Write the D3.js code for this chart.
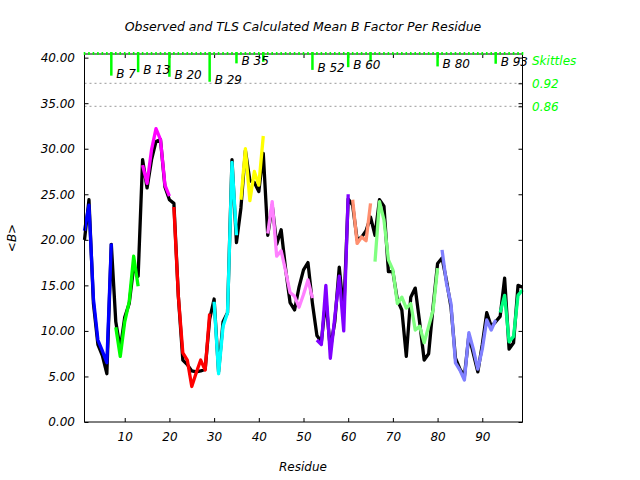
<!DOCTYPE html>
<html><head><meta charset="utf-8">
<script src="https://cdn.jsdelivr.net/npm/d3@7"></script>
<style>
body{margin:0;background:#fff}
text{font-family:"DejaVu Sans",sans-serif;font-style:italic}
</style>
</head><body>
<svg id="c" width="640" height="480"></svg>
<script>
// ---------- data ----------
const residues = d3.range(1, 100);
const observed = [
 20.0,24.4,13.0,8.5,7.3,5.3,19.5,11.0,8.0,11.5,
 13.0,17.0,16.0,28.8,25.7,28.8,30.8,31.0,25.8,24.4,
 24.0,13.8,6.8,6.3,5.6,5.5,5.6,5.8,11.3,13.5,
 5.5,11.0,12.0,28.8,19.7,23.5,29.8,26.5,26.3,25.3,
 29.5,20.5,23.8,19.5,21.1,16.8,13.1,12.3,14.8,16.7,
 17.5,13.0,9.5,8.8,13.5,8.0,11.0,17.0,12.0,24.5,
 23.8,20.0,20.3,21.0,22.5,20.5,24.4,23.7,16.5,16.5,
 13.4,12.3,7.2,13.7,14.7,10.9,6.8,7.5,12.7,17.4,
 18.0,15.5,12.6,7.0,5.8,5.0,9.5,7.5,5.5,8.5,
 12.0,10.5,11.0,11.6,15.8,8.0,8.7,15.0,14.8
];
const segStart = [1, 8, 14, 21, 30, 36, 42, 53, 61, 66, 81, 94];
const segColor = ["#0000ff","#00ff00","#ff00ff","#ff0000","#00ffff","#ffff00",
                  "#ff80ff","#8000ff","#ff9070","#80ff80","#8080ff","#00ff80"];
const segValues = [
 [21.0,23.8,13.5,9.0,7.8,6.5,19.6],
 [10.4,7.2,11.0,13.2,18.2,14.9],
 [28.2,26.2,29.9,32.2,31.0,26.0,24.8],
 [23.6,13.8,7.6,6.8,3.9,5.4,6.8,5.7,11.9],
 [13.2,5.3,10.5,12.0,28.5,20.5],
 [24.4,30.0,24.3,27.5,26.0,31.4],
 [20.7,24.2,18.2,18.8,16.6,14.2,13.8,12.6,14.0,15.6,13.6],
 [9.0,8.5,15.0,7.0,11.5,16.0,10.0,25.0],
 [24.4,19.6,20.3,19.9,24.0],
 [17.6,24.2,22.2,17.8,16.7,13.0,13.7,12.5,13.0,10.1,10.5,8.7,10.5,12.3,16.9],
 [18.9,15.2,13.0,6.5,5.7,4.6,9.8,8.0,5.8,8.0,11.2,10.1,11.2],
 [12.0,13.9,8.8,9.4,13.9,14.5]
];
const markerResidues = [7, 13, 20, 29, 35, 41, 52, 60, 65, 80, 93];
const markerLabels = ["B 7","B 13","B 20","B 29","B 35","","B 52","B 60","","B 80","B 93"];
const markerSkittles = [0.940,0.949,0.937,0.924,0.972,0.976,0.955,0.962,0.977,0.964,0.971];
const yTicks = [0,5,10,15,20,25,30,35,40];
const xTicks = [10,20,30,40,50,60,70,80,90];
const skittlesTicks = [0.92, 0.86];
const titleText = "Observed and TLS Calculated Mean B Factor Per Residue";

// ---------- layout ----------
const L = 84.5, R = 522.5, T = 54, B = 422;
const svg = d3.select("#c");
const x = d3.scaleLinear().domain([1, 99]).range([L, R]);
const y = d3.scaleLinear().domain([0, 40.4]).range([B, T]);
const s = d3.scaleLinear().domain([0.86, 0.92]).range([106.3, 83.3]);
const GREEN = "#00ff00";

// title
svg.append("text").attr("x", 303).attr("y", 31).attr("text-anchor", "middle")
  .attr("font-size", 12.5).text(titleText);

// skittles grid lines
svg.selectAll("line.sk").data(skittlesTicks).enter().append("line")
  .attr("x1", L).attr("x2", R).attr("y1", d => s(d)).attr("y2", d => s(d))
  .attr("stroke", "#999").attr("stroke-width", 1).attr("stroke-dasharray", "2,3");

// observed line (black)
const line = d3.line().x(d => x(d[0])).y(d => y(d[1]));
svg.append("path").datum(residues.map((r, i) => [r, observed[i]]))
  .attr("d", line).attr("fill", "none").attr("stroke", "#000")
  .attr("stroke-width", 3.3).attr("stroke-linejoin", "round");

// TLS segments
segValues.forEach((vals, k) => {
  svg.append("path").datum(vals.map((v, i) => [segStart[k] + i, v]))
    .attr("d", line).attr("fill", "none").attr("stroke", segColor[k])
    .attr("stroke-width", 3.3).attr("stroke-linejoin", "round");
});

// axes
const fmt = d3.format(".2f");
const gl = svg.append("g").attr("transform", `translate(${L},0)`)
  .call(d3.axisLeft(y).tickValues(yTicks).tickSize(-4).tickPadding(9.5).tickFormat(fmt).tickSizeOuter(0));
const gb = svg.append("g").attr("transform", `translate(0,${B})`)
  .call(d3.axisBottom(x).tickValues(xTicks).tickSize(-4).tickPadding(10).tickSizeOuter(0));
const gt = svg.append("g").attr("transform", `translate(0,${T})`)
  .call(d3.axisTop(x).tickValues(xTicks).tickSize(-4).tickFormat("").tickSizeOuter(0));
const gr = svg.append("g").attr("transform", `translate(${R},0)`)
  .call(d3.axisRight(y).tickValues(yTicks).tickSize(-4).tickFormat("").tickSizeOuter(0));
const gs = svg.append("g").attr("transform", `translate(${R},0)`)
  .call(d3.axisRight(s).tickValues(skittlesTicks).tickSize(-4).tickFormat("").tickSizeOuter(0));
gs.select(".domain").remove();
[gl, gb, gt, gr].forEach(g => {
  g.select(".domain").remove();
  g.selectAll("text").attr("font-size", 12).attr("font-family", "DejaVu Sans").attr("font-style", "italic").attr("fill", "#000");
  g.selectAll("line").attr("stroke", "#000");
});
gs.selectAll("line").attr("stroke", "#000");

// frame
svg.append("rect").attr("x", L).attr("y", T).attr("width", R - L).attr("height", B - T)
  .attr("fill", "none").attr("stroke", "#000").attr("stroke-width", 1);

// per-residue skittles dashes along top
svg.selectAll("line.res").data(residues).enter().append("line")
  .attr("x1", d => x(d)).attr("x2", d => x(d)).attr("y1", 52).attr("y2", 55)
  .attr("stroke", GREEN).attr("stroke-width", 1.6);

// segment markers
svg.selectAll("line.mk").data(markerResidues).enter().append("line")
  .attr("x1", d => x(d)).attr("x2", d => x(d)).attr("y1", 52)
  .attr("y2", (d, i) => s(markerSkittles[i]))
  .attr("stroke", GREEN).attr("stroke-width", 2.5);
svg.selectAll("text.mk").data(markerResidues).enter().append("text")
  .attr("x", d => x(d) + 5).attr("y", (d, i) => s(markerSkittles[i]) + 2)
  .attr("font-size", 12).text((d, i) => markerLabels[i]);

// skittles labels
svg.append("text").attr("x", 532).attr("y", 65).attr("font-size", 12).attr("fill", GREEN).text("Skittles");
svg.selectAll("text.skl").data(skittlesTicks).enter().append("text")
  .attr("x", 532).attr("y", d => s(d) + 5).attr("font-size", 12).attr("fill", GREEN)
  .text(d => d.toFixed(2));

// axis titles
svg.append("text").attr("x", 303).attr("y", 471).attr("text-anchor", "middle")
  .attr("font-size", 12).text("Residue");
svg.append("text").attr("transform", "translate(16,238) rotate(-90)").attr("text-anchor", "middle")
  .attr("font-size", 12).text("<B>");
</script>
</body></html>
